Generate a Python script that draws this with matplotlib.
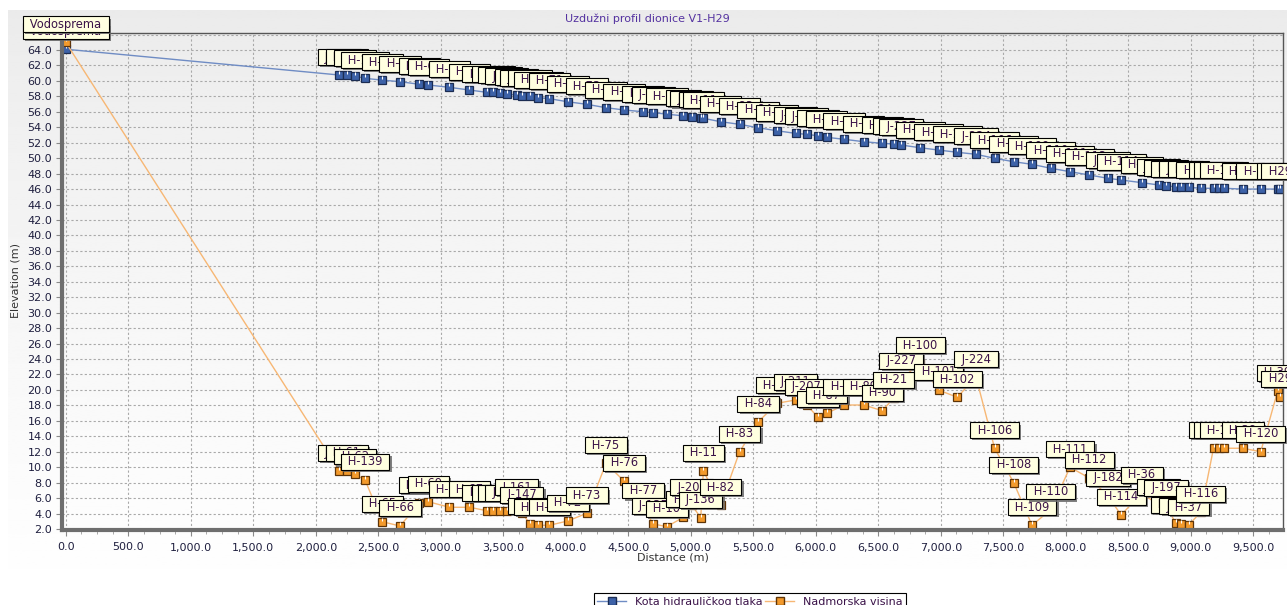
import numpy as np
import matplotlib
matplotlib.use("Agg")
import matplotlib.pyplot as plt
import matplotlib.patheffects as pe
from matplotlib.ticker import FuncFormatter, MultipleLocator
from matplotlib.lines import Line2D

# longitudinal profile V1-H29: node names, chainage, hydraulic head, ground elevation
nodes = ["Vodosprema", "J-165", "H-61", "H-62", "H-139", "H-65", "H-66", "H-68", "H-69",
         "H-70", "H-67", "H-143", "J-158", "J-159", "J-160", "J-161", "J-147", "J-148",
         "H-145", "H-71", "H-72", "H-73", "H-75", "H-76", "H-77", "J-135", "H-10",
         "H-9", "J-206", "J-136", "H-11", "H-82", "H-83", "H-84", "H-85", "J-211",
         "J-207", "H-86", "H-87", "H-88", "H-89", "H-90", "H-21", "J-227", "H-100",
         "H-101", "H-102", "J-224", "H-106", "H-108", "H-109", "H-110", "H-111",
         "H-112", "J-182", "H-114", "H-36", "J-196", "J-197", "H-115", "J-198",
         "H-37", "H-116", "H-117", "H-118", "H-119", "H-38", "H-120", "H-39", "H29"]

distance = [0, 2189, 2248, 2314, 2394, 2533, 2674, 2829, 2901,
            3069, 3229, 3368, 3421, 3474, 3528, 3608, 3648, 3714,
            3781, 3869, 4016, 4168, 4322, 4466, 4621, 4701, 4808,
            4941, 5008, 5080, 5101, 5239, 5390, 5539, 5689, 5838,
            5928, 6018, 6087, 6228, 6383, 6533, 6623, 6683, 6835,
            6982, 7132, 7282, 7431, 7584, 7730, 7881, 8034,
            8189, 8338, 8443, 8608, 8743, 8802, 8878, 8922,
            8982, 9081, 9182, 9222, 9266, 9416, 9560, 9696, 9716]

head = [64.1, 60.76, 60.76, 60.63, 60.33, 60.1, 59.9, 59.56, 59.47,
        59.17, 58.82, 58.52, 58.52, 58.39, 58.3, 58.17, 58.08, 58.04,
        57.82, 57.7, 57.3, 56.97, 56.53, 56.24, 56.0, 55.88, 55.7,
        55.47, 55.38, 55.25, 55.16, 54.72, 54.38, 53.94, 53.55, 53.21,
        53.08, 52.9, 52.7, 52.44, 52.13, 51.92, 51.83, 51.7, 51.35,
        51.05, 50.76, 50.5, 49.98, 49.54, 49.2, 48.69, 48.25,
        47.82, 47.39, 47.17, 46.83, 46.53, 46.4, 46.31, 46.3,
        46.23, 46.1, 46.1, 46.1, 46.1, 46.0, 46.0, 46.0, 46.0]

elevation = [65.0, 9.52, 9.52, 9.06, 8.36, 2.94, 2.39, 5.33, 5.53,
             4.81, 4.81, 4.37, 4.37, 4.37, 4.37, 5.1, 4.1, 2.65,
             2.48, 2.48, 3.04, 4.03, 10.5, 8.21, 4.65, 2.65, 2.3,
             3.51, 5.1, 3.46, 9.55, 5.1, 11.97, 15.85, 18.27, 18.7,
             18.05, 16.46, 16.97, 18.05, 18.05, 17.31, 18.96, 21.42, 23.45,
             19.99, 19.05, 21.67, 12.45, 7.99, 2.48, 4.52, 9.99,
             8.6, 6.27, 3.81, 6.66, 5.1, 4.98, 2.82, 2.61,
             2.48, 4.2, 12.45, 12.45, 12.45, 12.45, 12.0, 19.9, 19.12]

series_names = ["Kota hidrauličkog tlaka", "Nadmorska visina"]

W, H = 1287, 605
fig = plt.figure(figsize=(W / 100, H / 100), dpi=100)
fig.patch.set_facecolor("white")

# grey panel fading to white
bg = fig.add_axes([8 / W, 0, 1 - 8 / W, 595 / H], zorder=-10)
grad = np.linspace(0, 1, 256) ** 0.8
bg.imshow(np.c_[grad][:, :1] * np.ones((1, 2)), cmap="gray", vmin=-11.5, vmax=1.0,
          aspect="auto", extent=[0, 1, 0, 1], origin="upper")
bg.set_axis_off()

ax = fig.add_axes([62 / W, 75 / H, 1221 / W, 497 / H])
ax.set_facecolor("none")

blue_face, blue_edge, blue_line = "#3d62a8", "#1b2c52", "#6f8cc4"
orange_face, orange_edge, orange_line = "#f39a2c", "#5e3408", "#f7b774"

gloss = [(0, 0.25), (0, 1.0)]

ax.plot(distance, head, color=blue_line, lw=1.0, marker="s", ms=6,
        mfc=blue_face, mec=blue_edge, mew=0.9, zorder=2)
ax.plot(distance, head, ls="none", marker=gloss, ms=6, mec="white", mew=0.8, zorder=2.1)
ax.plot(distance, elevation, color=orange_line, lw=1.0, marker="s", ms=6,
        mfc=orange_face, mec=orange_edge, mew=0.9, zorder=2.2)
ax.plot(distance, elevation, ls="none", marker=gloss, ms=6, mec="white", mew=0.8, zorder=2.3)

label_color = "#3a1248"
shadow = [pe.SimplePatchShadow(offset=(1.6, -1.6), shadow_rgbFace="#6a6a6a", alpha=0.85),
          pe.Normal()]


def tag(x, y, name):
    a = ax.annotate("\u2002" + name + "\u2002", (x, y), xytext=(0, 8.3),
                    textcoords="offset points", ha="center", va="bottom",
                    fontsize=8.3, color=label_color, annotation_clip=False,
                    bbox=dict(boxstyle="square,pad=0.12", fc="#ffffe0", ec="black", lw=0.8),
                    zorder=5)
    a.get_bbox_patch().set_path_effects(shadow)


for n, d, v in zip(nodes, distance, head):
    tag(d, v, n)
for n, d, v in zip(nodes, distance, elevation):
    tag(d, v, n)

ax.set_xlim(-30, 9738)
ax.set_ylim(1.87, 66.2)
ax.xaxis.set_major_locator(MultipleLocator(500))
ax.xaxis.set_minor_locator(MultipleLocator(125))
ax.yaxis.set_major_locator(MultipleLocator(2))
ax.xaxis.set_major_formatter(FuncFormatter(lambda v, p: f"{v:,.1f}"))
ax.yaxis.set_major_formatter(FuncFormatter(lambda v, p: f"{v:.1f}"))

tick_txt = "#1f1f3f"
ax.tick_params(axis="both", which="major", labelsize=8, labelcolor=tick_txt,
               color="#8a8a8a", length=4)
ax.tick_params(axis="x", which="major", pad=5)
ax.tick_params(axis="y", which="major", pad=3)
ax.tick_params(axis="x", which="minor", color="#9a9a9a", length=3)

ax.grid(True, which="major", color="#a9a9a9", ls=(0, (2, 2)), lw=0.8)
ax.set_axisbelow(True)

for s in ("left", "bottom"):
    ax.spines[s].set_linewidth(3)
    ax.spines[s].set_color("#6e6e6e")
for s in ("top", "right"):
    ax.spines[s].set_linewidth(1)
    ax.spines[s].set_color("#555555")

fig.text(647 / W, 1 - 19 / H, "Uzdužni profil dionice V1-H29", ha="center", va="center",
         fontsize=8, color="#5432a0")
fig.text(15 / W, 1 - 281 / H, "Elevation (m)", rotation=90, ha="center", va="center",
         fontsize=8, color="#333333")
fig.text(673 / W, 1 - 558 / H, "Distance (m)", ha="center", va="center",
         fontsize=8, color="#333333")

handles = [Line2D([], [], color=blue_line, lw=1, marker="s", ms=6, mfc=blue_face, mec=blue_edge),
           Line2D([], [], color=orange_line, lw=1, marker="s", ms=6, mfc=orange_face, mec=orange_edge)]
leg = fig.legend(handles, series_names, loc="upper center", bbox_to_anchor=(750 / W, 1 - 593 / H),
                 ncol=2, fontsize=8, frameon=True, fancybox=False, edgecolor="black",
                 framealpha=1, borderpad=0.3, handlelength=2.6, handletextpad=0.8,
                 columnspacing=0.2, borderaxespad=0)
leg.get_frame().set_linewidth(0.8)
for t in leg.get_texts():
    t.set_color(label_color)

fig.savefig("out.png", dpi=100)
